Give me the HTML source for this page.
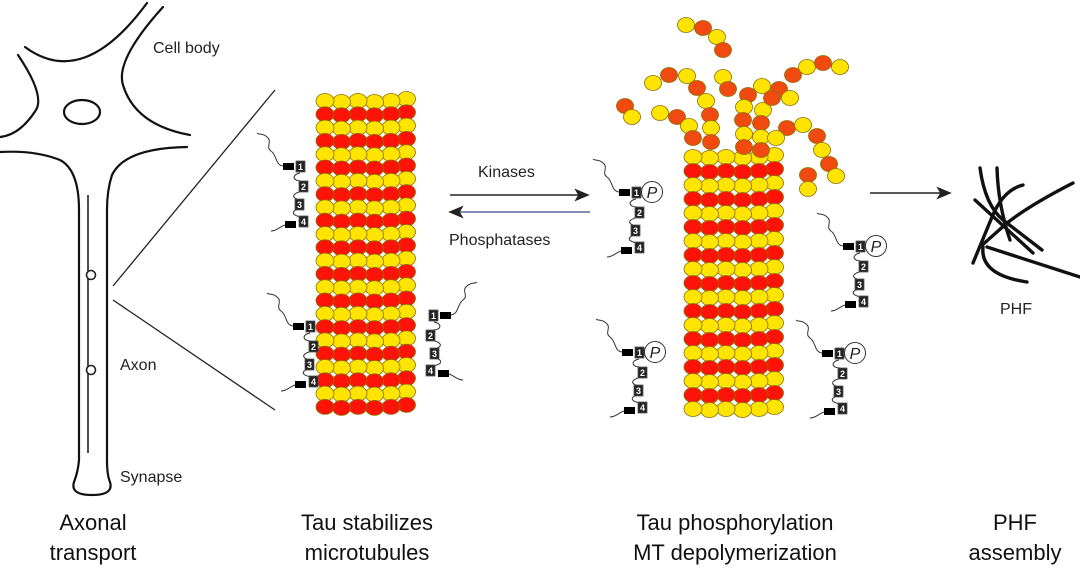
<!DOCTYPE html>
<html><head><meta charset="utf-8"><style>
html,body{margin:0;padding:0;background:#fff;}
svg{display:block;font-family:"Liberation Sans",Arial,sans-serif;}
</style></head><body>
<svg id="s" width="1080" height="569" viewBox="0 0 1080 569" xmlns="http://www.w3.org/2000/svg">
<g fill="none" stroke="#111" stroke-width="2.2" stroke-linecap="round">
<path d="M18,55 Q45,95 36,110 Q20,135 0,137"/>
<path d="M25,47 Q83,90 147,3"/>
<path d="M163,7 Q115,60 123,85 Q135,125 190,135"/>
<path d="M187,147 Q125,148 112,175 Q107,190 107,210 L107,460 Q107,475 110,482 Q114,495 92,495 Q70,495 74,482 Q78,472 79,460 L79,210 Q79,170 60,160 Q35,150 0,152"/>
<ellipse cx="82" cy="112" rx="18" ry="12"/>
</g>
<g fill="none" stroke="#222" stroke-width="1.6">
<line x1="88" y1="195" x2="88" y2="453"/>
<circle cx="91" cy="275" r="4.5" fill="#fff"/>
<circle cx="91" cy="370" r="4.5" fill="#fff"/>
<line x1="113" y1="286" x2="275" y2="90" stroke-width="1.3"/>
<line x1="113" y1="300" x2="275" y2="410" stroke-width="1.3"/>
</g>
<g fill="#222" font-size="16">
<text x="153" y="53">Cell body</text>
<text x="120" y="370">Axon</text>
<text x="120" y="482">Synapse</text>
<text x="478" y="177">Kinases</text>
<text x="449" y="245">Phosphatases</text>
<text x="1000" y="314">PHF</text>
</g>
<g fill="#111" font-size="22" text-anchor="middle">
<text x="93" y="530">Axonal</text><text x="93" y="560">transport</text>
<text x="367" y="530">Tau stabilizes</text><text x="367" y="560">microtubules</text>
<text x="735" y="530">Tau phosphorylation</text><text x="735" y="560">MT depolymerization</text>
<text x="1015" y="530">PHF</text><text x="1015" y="560">assembly</text>
</g>
<g stroke="#222" stroke-width="1.4" fill="#222">
<line x1="450" y1="195" x2="580" y2="195"/><path d="M588,195 L576,190 L579,195 L576,200Z"/>
<line x1="460" y1="212" x2="590" y2="212" stroke="#5a6a9a"/><path d="M450,212 L462,207 L459,212 L462,217Z"/>
<line x1="870" y1="193" x2="942" y2="193"/><path d="M950,193 L938,188 L941,193 L938,198Z"/>
</g>
<g fill="none" stroke="#111" stroke-width="3.4" stroke-linecap="round">
<path d="M980,168 Q985,205 1003,220 L1042,250"/>
<path d="M997,168 Q998,205 1010,240"/>
<path d="M975,200 L1033,253"/>
<path d="M1073,183 Q1030,205 1007,223 L980,247"/>
<path d="M1023,185 Q1003,190 992,217 L973,263"/>
<path d="M987,247 L1080,277"/>
<path d="M983,247 Q980,275 1027,282"/>
</g>
<g id="mt"></g>
<g id="tau"></g>
</svg>
<script>
var NS="http://www.w3.org/2000/svg";
function el(p,t,a,txt){var e=document.createElementNS(NS,t);for(var k in a)e.setAttribute(k,a[k]);if(txt)e.textContent=txt;p.appendChild(e);return e;}
var mt=document.getElementById('mt'),tau=document.getElementById('tau');
var Y="#ffe400",R="#ff1208",O="#f04a10";
function dot(x,y,c,rx,ry){el(mt,'ellipse',{cx:x,cy:y,rx:rx||9,ry:ry||7.5,fill:c,stroke:"#8a7000","stroke-width":0.8});}
function lattice(x0,y0,rows,sp,cols,firstY){
 for(var r=0;r<rows;r++){var c=((r%2==0)==firstY)?Y:R;
  dot(x0+5*16.5-1,y0+r*sp-2,c);
  for(var i=cols-1;i>=0;i--){dot(x0+i*16.5,y0+r*sp+(i%2?1:0),c);}
 }}
lattice(325,101,24,13.3,5,true);
lattice(693,157,19,14,5,true);
var pf=[[686,25,Y],[703,28,O],[717,37,Y],[723,50,O],[653,83,Y],[669,75,O],[687,76,Y],[697,88,O],[706,101,Y],[710,115,O],[711,128,Y],[711,142,O],
[625,106,O],[632,117,Y],[660,113,Y],[677,117,O],[689,126,Y],[693,138,O],[723,77,Y],[728,89,O],[748,95,O],[762,86,Y],[779,89,O],[790,98,Y],
[744,107,Y],[743,120,O],[744,134,Y],[744,147,O],[763,110,Y],[761,123,O],[761,137,Y],[761,150,O],[772,98,O],
[793,75,O],[807,67,Y],[823,63,O],[840,67,Y],[787,128,O],[803,125,Y],[817,136,O],[822,150,Y],[829,164,O],[836,176,Y],[808,175,O],[808,189,Y],[776,138,Y]];
pf.forEach(function(p){dot(p[0],p[1],p[2],8.5,7.5);});
function tauM(x,y,flip,P){
 var g=el(tau,'g',{transform:'translate('+x+','+y+')'+(flip?' scale(-1,1)':'')});
 el(g,'path',{d:'M0,3 C-8,2 -6,-8 -12,-12 C-18,-16 -10,-22 -16,-26 C-20,-30 -24,-28 -26,-30',fill:'none',stroke:'#333','stroke-width':1});
 el(g,'path',{d:'M17,10 C8,12 10,18 18,18 M20,28 C10,30 8,34 14,36 M16,46 C8,48 8,52 18,54 M2,62 C-4,64 -6,68 -12,68',fill:'none',stroke:'#333','stroke-width':1});
 el(g,'rect',{x:0,y:0,width:11,height:7,fill:'#000'});
 el(g,'rect',{x:2,y:58,width:11,height:7,fill:'#000'});
 var bx=[[13,-2],[16,18],[12,36],[16,53]];
 bx.forEach(function(b,i){el(g,'rect',{x:b[0],y:b[1],width:9,height:11,fill:'#222',stroke:'#555','stroke-width':0.8});
  el(g,'text',{x:b[0]+4.5,y:b[1]+9,'font-size':9,fill:'#fff','text-anchor':'middle','font-weight':'bold',transform:flip?'translate('+(2*(b[0]+4.5))+',0) scale(-1,1)':''},String(i+1));});
 if(P){el(g,'circle',{cx:33,cy:3,r:10.5,fill:'#fff',stroke:'#333','stroke-width':1});
  el(g,'text',{x:33,y:9,'font-size':16,'font-style':'italic','text-anchor':'middle',fill:'#222'},'P');}
}
tauM(283,163,false,false);
tauM(293,323,false,false);
tauM(451,312,true,false);
tauM(619,189,false,true);
tauM(622,349,false,true);
tauM(843,243,false,true);
tauM(822,350,false,true);
</script>
</body></html>
